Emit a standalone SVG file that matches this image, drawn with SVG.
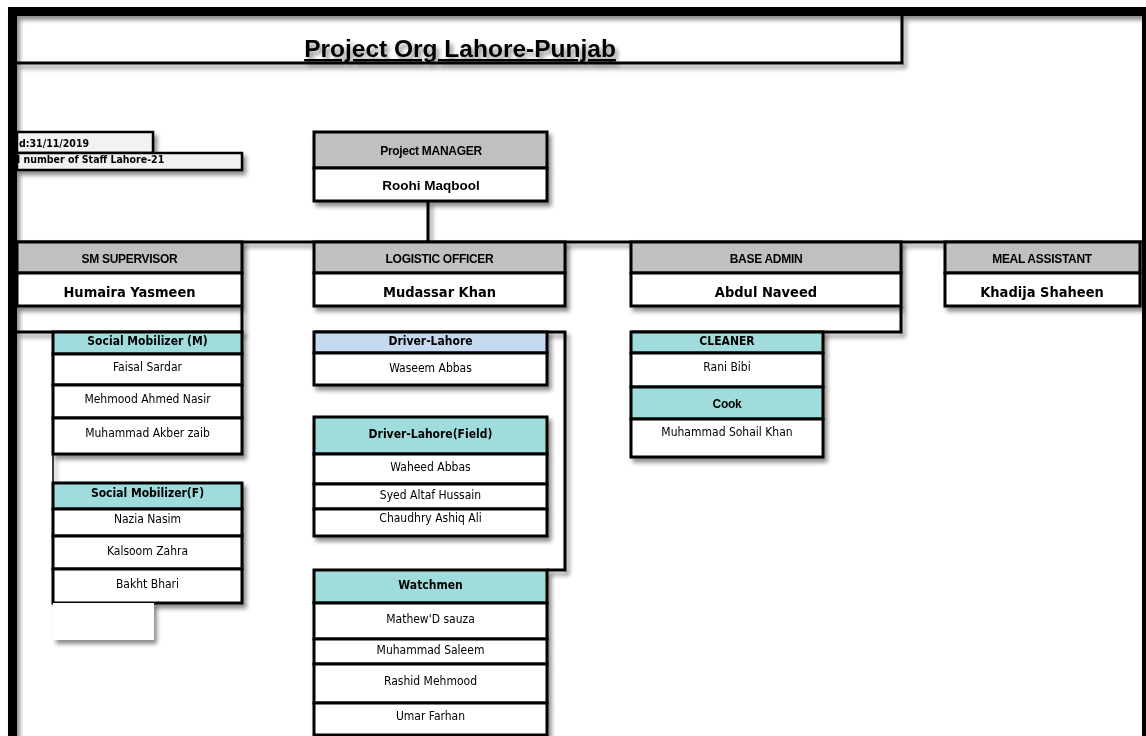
<svg xmlns="http://www.w3.org/2000/svg" width="1146" height="736" viewBox="0 0 1146 736">
  <defs>
    <filter id="shadow" x="-10%" y="-10%" width="130%" height="140%">
      <feDropShadow dx="3" dy="4" stdDeviation="2.2" flood-color="#000" flood-opacity="0.45"/>
    </filter>
    <style>
      .box { stroke: #000; stroke-width: 3; }
      .grey { fill: #c0c0c0; }
      .teal { fill: #a0dcdc; }
      .blue { fill: #c5d9f1; }
      .white { fill: #fff; }
      .pale { fill: #f2f2f2; stroke: #000; stroke-width: 2.5; }
      .wire { stroke: #000; stroke-width: 3; fill: none; }
      .hdr { font-family: "Liberation Sans", Arial, sans-serif; font-weight: bold; font-size: 12px; text-anchor: middle; fill: #000; letter-spacing: -0.3px; }
      .lead { font-family: "Liberation Sans", Arial, sans-serif; font-weight: bold; font-size: 13.5px; text-anchor: middle; fill: #000; }
      .big { font-family: "DejaVu Sans Condensed", "DejaVu Sans", sans-serif; font-weight: bold; font-size: 14.5px; text-anchor: middle; fill: #000; }
      .sub { font-family: "DejaVu Sans Condensed", "DejaVu Sans", sans-serif; font-weight: bold; font-size: 12px; text-anchor: middle; fill: #000; }
      .nm { font-family: "DejaVu Sans Condensed", "DejaVu Sans", sans-serif; font-size: 12px; text-anchor: middle; fill: #000; }
      .note { font-family: "DejaVu Sans Condensed", "DejaVu Sans", sans-serif; font-weight: bold; font-size: 10.5px; fill: #000; }
    </style>
  </defs>

  <rect width="1146" height="736" fill="#fff"/>

  <!-- sheet frame -->
  <g id="frame" filter="url(#shadow)">
    <rect x="8" y="7" width="1138" height="9" fill="#000"/>
    <rect x="8" y="7" width="9" height="729" fill="#000"/>
    <rect x="1142" y="7" width="4" height="729" fill="#000"/>
  </g>

  <!-- title -->
  <g id="title">
    <path d="M17 63 H902 V16" class="wire" filter="url(#shadow)"/>
    <text x="460" y="57" font-family="Liberation Sans, Arial, sans-serif" font-weight="bold" font-size="24.5" text-anchor="middle" text-decoration="underline" filter="url(#shadow)">Project Org Lahore-Punjab</text>
  </g>

  <!-- date and staff count -->
  <g id="info" filter="url(#shadow)">
    <rect x="17" y="132" width="136" height="21" class="pale"/>
    <rect x="17" y="153" width="225" height="17" class="pale"/>
    <text x="19" y="147" class="note">d:31/11/2019</text>
    <text x="17" y="163" class="note">l number of Staff Lahore-21</text>
  </g>

  <!-- connectors -->
  <g id="connectors" filter="url(#shadow)">
    <line x1="428" y1="201" x2="428" y2="242" class="wire"/>
    <line x1="17" y1="242" x2="1142" y2="242" class="wire"/>
    <path d="M242 306 V332 H17" class="wire"/>
    <path d="M314 332 H565 V570 H547" class="wire"/>
    <path d="M901 306 V332 H631" class="wire"/>
    <line x1="53" y1="454" x2="53" y2="483" stroke="#000" stroke-width="1.5"/>
  </g>

  <!-- Project manager -->
  <g id="project-manager" filter="url(#shadow)">
    <rect x="314" y="132" width="233" height="36" class="box grey"/>
    <rect x="314" y="168" width="233" height="33" class="box white"/>
    <text x="431" y="155" class="hdr">Project MANAGER</text>
    <text x="431" y="190" class="lead">Roohi Maqbool</text>
  </g>

  <!-- second level -->
  <g id="sm-supervisor" filter="url(#shadow)">
    <rect x="17" y="242" width="225" height="31" class="box grey"/>
    <rect x="17" y="273" width="225" height="33" class="box white"/>
    <text x="129.5" y="263" class="hdr">SM SUPERVISOR</text>
    <text x="129.5" y="297" class="big">Humaira Yasmeen</text>
  </g>

  <g id="logistic-officer" filter="url(#shadow)">
    <rect x="314" y="242" width="251" height="31" class="box grey"/>
    <rect x="314" y="273" width="251" height="33" class="box white"/>
    <text x="439.5" y="263" class="hdr">LOGISTIC OFFICER</text>
    <text x="439.5" y="297" class="big">Mudassar Khan</text>
  </g>

  <g id="base-admin" filter="url(#shadow)">
    <rect x="631" y="242" width="270" height="31" class="box grey"/>
    <rect x="631" y="273" width="270" height="33" class="box white"/>
    <text x="766" y="263" class="hdr">BASE ADMIN</text>
    <text x="766" y="297" class="big">Abdul Naveed</text>
  </g>

  <g id="meal-assistant" filter="url(#shadow)">
    <rect x="945" y="242" width="195" height="31" class="box grey"/>
    <rect x="945" y="273" width="195" height="33" class="box white"/>
    <text x="1042" y="263" class="hdr">MEAL ASSISTANT</text>
    <text x="1042" y="297" class="big">Khadija Shaheen</text>
  </g>

  <!-- social mobilizers -->
  <g id="social-mobilizer-m" filter="url(#shadow)">
    <rect x="53" y="332" width="189" height="22" class="box teal"/>
    <rect x="53" y="354" width="189" height="31" class="box white"/>
    <rect x="53" y="385" width="189" height="33" class="box white"/>
    <rect x="53" y="418" width="189" height="36" class="box white"/>
    <text x="147.5" y="345" class="sub">Social Mobilizer (M)</text>
    <text x="147.5" y="371" class="nm">Faisal Sardar</text>
    <text x="147.5" y="403" class="nm">Mehmood Ahmed Nasir</text>
    <text x="147.5" y="437" class="nm">Muhammad Akber zaib</text>
  </g>

  <g id="social-mobilizer-f" filter="url(#shadow)">
    <rect x="53" y="483" width="189" height="26" class="box teal"/>
    <rect x="53" y="509" width="189" height="27" class="box white"/>
    <rect x="53" y="536" width="189" height="33" class="box white"/>
    <rect x="53" y="569" width="189" height="34" class="box white"/>
    <text x="147.5" y="497" class="sub">Social Mobilizer(F)</text>
    <text x="147.5" y="523" class="nm">Nazia Nasim</text>
    <text x="147.5" y="555" class="nm">Kalsoom Zahra</text>
    <text x="147.5" y="588" class="nm">Bakht Bhari</text>
  </g>

  <g id="spare-slot" filter="url(#shadow)">
    <rect x="53" y="603" width="101" height="37" fill="#fff"/>
  </g>

  <!-- drivers and watchmen -->
  <g id="driver-lahore" filter="url(#shadow)">
    <rect x="314" y="332" width="233" height="21" class="box blue"/>
    <rect x="314" y="353" width="233" height="32" class="box white"/>
    <text x="430.5" y="345" class="sub">Driver-Lahore</text>
    <text x="430.5" y="372" class="nm">Waseem Abbas</text>
  </g>

  <g id="driver-lahore-field" filter="url(#shadow)">
    <rect x="314" y="417" width="233" height="37" class="box teal"/>
    <rect x="314" y="454" width="233" height="30" class="box white"/>
    <rect x="314" y="484" width="233" height="25" class="box white"/>
    <rect x="314" y="509" width="233" height="27" class="box white"/>
    <text x="430.5" y="438" class="sub">Driver-Lahore(Field)</text>
    <text x="430.5" y="471" class="nm">Waheed Abbas</text>
    <text x="430.5" y="499" class="nm">Syed Altaf Hussain</text>
    <text x="430.5" y="522" class="nm">Chaudhry Ashiq Ali</text>
  </g>

  <g id="watchmen" filter="url(#shadow)">
    <rect x="314" y="570" width="233" height="33" class="box teal"/>
    <rect x="314" y="603" width="233" height="36" class="box white"/>
    <rect x="314" y="639" width="233" height="25" class="box white"/>
    <rect x="314" y="664" width="233" height="39" class="box white"/>
    <rect x="314" y="703" width="233" height="32" class="box white"/>
    <text x="430.5" y="589" class="sub">Watchmen</text>
    <text x="430.5" y="623" class="nm">Mathew'D sauza</text>
    <text x="430.5" y="654" class="nm">Muhammad Saleem</text>
    <text x="430.5" y="685" class="nm">Rashid Mehmood</text>
    <text x="430.5" y="720" class="nm">Umar Farhan</text>
  </g>

  <!-- base staff -->
  <g id="cleaner-cook" filter="url(#shadow)">
    <rect x="631" y="332" width="192" height="21" class="box teal"/>
    <rect x="631" y="353" width="192" height="34" class="box white"/>
    <rect x="631" y="387" width="192" height="32" class="box teal"/>
    <rect x="631" y="419" width="192" height="38" class="box white"/>
    <text x="727" y="345" class="sub">CLEANER</text>
    <text x="727" y="371" class="nm">Rani Bibi</text>
    <text x="727" y="408" class="hdr">Cook</text>
    <text x="727" y="436" class="nm">Muhammad Sohail Khan</text>
  </g>
</svg>
